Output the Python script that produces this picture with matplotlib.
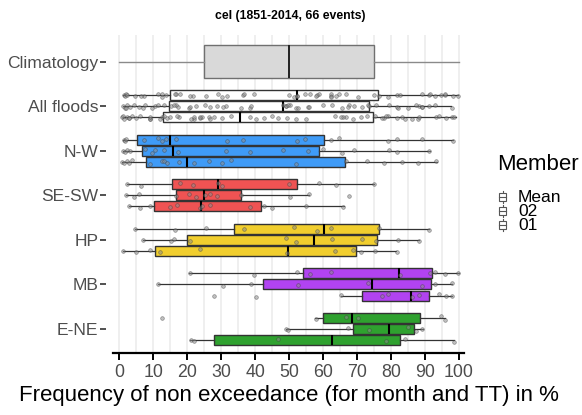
import matplotlib
matplotlib.use("Agg")
import matplotlib.pyplot as plt
from matplotlib.patches import Rectangle
from matplotlib.lines import Line2D

plt.rcParams['font.family'] = ['Liberation Sans', 'DejaVu Sans']

# ---- data -------------------------------------------------------------
categories = ["Climatology", "All floods", "N-W", "SE-SW", "HP", "MB", "E-NE"]
regions = ["N-W", "SE-SW", "HP", "MB", "E-NE"]
members = ["Mean", "02", "01"]

region_colors = {"N-W": "#3F9BF7", "SE-SW": "#EF5353", "HP": "#F1CE2E",
                 "MB": "#B143F1", "E-NE": "#2FA12F"}

# climatology: whisker low, Q1, median, Q3, whisker high
clim_stats = [0.0, 25.0, 50.0, 75.0, 100.0]

# box statistics per member for [All floods, N-W, SE-SW, HP, MB, E-NE]
# each entry: whisker low, Q1, median, Q3, whisker high
stats_mean = [[1.1, 14.8, 52.2, 76.3, 99.8],
              [1.0, 5.1, 15.0, 60.3, 98.3],
              [2.3, 15.4, 29.2, 52.2, 75.0],
              [4.6, 33.7, 60.3, 76.6, 91.3],
              [20.6, 54.1, 82.4, 92.2, 99.9],
              [57.6, 60.0, 68.5, 88.6, 95.8]]
stats_02 = [[1.0, 14.6, 48.2, 73.4, 97.8],
            [1.0, 6.6, 15.7, 58.9, 91.5],
            [2.0, 16.6, 24.8, 35.9, 56.0],
            [6.9, 19.8, 57.3, 75.9, 88.3],
            [11.3, 42.3, 74.3, 91.9, 97.9],
            [49.0, 68.9, 79.3, 86.7, 89.3]]
stats_01 = [[1.0, 13.0, 35.6, 74.8, 99.1],
            [0.8, 8.0, 19.8, 66.4, 93.6],
            [2.8, 10.3, 24.0, 41.6, 66.2],
            [1.0, 10.5, 49.7, 69.8, 81.6],
            [65.2, 71.5, 85.8, 91.1, 98.0],
            [20.9, 28.0, 62.6, 82.8, 98.6]]

# event values (%) per region and member
pts_mean = {
    "N-W": [1.3, 1.7, 2.1, 7.4, 11.4, 12.6, 13.8, 16.6, 31.6, 36.5, 52.4, 54.8,
            62.2, 64.6, 79.1, 81.8, 89.0, 98.3],
    "SE-SW": [2.3, 6.3, 17.8, 21.6, 29.2, 30.2, 49.9, 58.9, 63.9, 75.0],
    "HP": [4.7, 16.3, 25.4, 36.6, 51.3, 58.3, 62.3, 76.4, 91.1],
    "MB": [20.7, 39.8, 52.3, 56.2, 62.4, 82.6, 91.5, 93.1, 95.9, 99.8],
    "E-NE": [12.7, 57.8, 66.8, 70.3, 94.6, 95.9],
}
pts_02 = {
    "N-W": [1.1, 1.8, 2.4, 3.2, 7.6, 9.6, 10.4, 13.2, 17.3, 31.3, 38.5, 48.1,
            55.7, 60.0, 65.7, 69.1, 79.3, 81.8, 91.2],
    "SE-SW": [2.0, 4.4, 5.7, 16.7, 20.5, 22.5, 25.1, 26.8, 28.9, 35.8, 50.3,
              56.0, 67.7],
    "HP": [7.0, 15.1, 16.2, 20.9, 49.0, 52.1, 62.5, 71.5, 75.7, 82.2, 88.3],
    "MB": [11.3, 30.4, 38.9, 52.5, 73.3, 89.0, 92.9, 97.9],
    "E-NE": [49.0, 49.6, 67.3, 73.5, 85.1, 87.4, 89.0],
}
pts_01 = {
    "N-W": [0.8, 1.5, 2.3, 3.0, 3.7, 8.9, 12.5, 13.3, 14.0, 17.6, 21.9, 26.3,
            30.2, 32.8, 52.0, 66.7, 72.8, 77.9, 83.1, 88.0, 93.4],
    "SE-SW": [2.9, 6.0, 8.9, 15.0, 17.0, 23.8, 24.4, 26.8, 38.5, 42.6, 45.1,
              55.1, 66.0],
    "HP": [1.0, 5.0, 8.9, 12.1, 23.9, 49.3, 63.6, 68.7, 71.3, 75.3, 81.7],
    "MB": [27.8, 40.4, 65.4, 77.4, 79.0, 86.2, 88.2, 94.0, 96.1, 98.0],
    "E-NE": [21.2, 21.9, 46.7, 78.6, 84.1, 98.6],
}

xticks = list(range(0, 101, 10))
title = "cel (1851-2014, 66 events)"
xlabel = "Frequency of non exceedance (for month and TT) in %"

# ---- figure -------------------------------------------------------------
W, H = 582, 415
fig = plt.figure(figsize=(W / 100, H / 100), dpi=100)
ax = fig.add_axes([113 / W, 1 - 353 / H, (464 - 113) / W, (353 - 35) / H])

ypos = {c: len(categories) - 1 - i for i, c in enumerate(categories)}
offsets = {"Mean": 0.25, "02": 0.0, "01": -0.25}
jit = [0.0, -0.03, 0.02, -0.015, 0.035, -0.04, 0.01, 0.025, -0.02]


def to_bxp(s):
    return dict(whislo=s[0], q1=s[1], med=s[2], q3=s[3], whishi=s[4], fliers=[])


# climatology box
ax.bxp([to_bxp(clim_stats)], positions=[ypos["Climatology"]], widths=0.75,
       orientation="horizontal", patch_artist=True, showcaps=False,
       showfliers=False, manage_ticks=False,
       boxprops=dict(facecolor="#D9D9D9", edgecolor="#707070", linewidth=1.0),
       whiskerprops=dict(color="#8A8A8A", linewidth=1.0),
       medianprops=dict(color="#222222", linewidth=1.4))

groups = ["All floods"] + regions
member_stats = {"Mean": stats_mean, "02": stats_02, "01": stats_01}
member_pts = {"Mean": pts_mean, "02": pts_02, "01": pts_01}

for m in members:
    for gi, g in enumerate(groups):
        y = ypos[g] + offsets[m]
        face = "white" if g == "All floods" else region_colors[g]
        ax.bxp([to_bxp(member_stats[m][gi])], positions=[y], widths=0.225,
               orientation="horizontal", patch_artist=True, showcaps=False,
               showfliers=False, manage_ticks=False,
               boxprops=dict(facecolor=face, edgecolor="#333333", linewidth=1.0),
               whiskerprops=dict(color="#333333", linewidth=0.9),
               medianprops=dict(color="black", linewidth=1.5))
        if g == "All floods":
            vals = [v for r in regions for v in member_pts[m][r]]
        else:
            vals = member_pts[m][g]
        ys = [y + jit[i % len(jit)] for i in range(len(vals))]
        ax.scatter(vals, ys, s=7, facecolor="#8C8C8C", edgecolor="#3A3A3A",
                   linewidths=0.45, alpha=0.55, zorder=5)

ax.set_xlim(-1.85, 101.5)
ax.set_ylim(-0.54, 6.6)
ax.set_xticks(xticks)
ax.set_xticks([t + 5 for t in xticks[:-1]], minor=True)
ax.grid(True, axis="x", which="both", color="#EBEBEB", linewidth=1.1)
ax.set_axisbelow(True)
ax.set_yticks([ypos[c] for c in categories])
ax.set_yticklabels(categories)

for s in ["top", "right", "left"]:
    ax.spines[s].set_visible(False)
ax.spines["left"].set_position(("outward", 5))
ax.spines["bottom"].set_color("black")
ax.spines["bottom"].set_linewidth(1.6)
ax.tick_params(axis="x", which="major", length=5, width=1.4, color="black",
               labelsize=12.8, labelcolor="#4D4D4D", pad=3)
ax.tick_params(axis="x", which="minor", length=0)
ax.tick_params(axis="y", length=4, width=1.2, color="#333333", labelsize=12.6,
               labelcolor="#4D4D4D", pad=1.5)
ax.set_xlabel(xlabel, fontsize=16, color="black", labelpad=3)
fig.text(290 / W, 1 - 16 / H, title, ha="center", va="center",
         fontsize=8.8, fontweight="bold")

# ---- legend ---------------------------------------------------------------
lax = fig.add_axes([0, 0, 1, 1])
lax.set_xlim(0, W)
lax.set_ylim(H, 0)
lax.axis("off")
lax.text(497, 164, "Member", fontsize=16, va="center", ha="left")
for i, m in enumerate(members):
    cy = 197 + i * 14
    lax.add_line(Line2D([502.5, 502.5], [cy - 6, cy + 6], color="#555555", lw=0.8))
    lax.add_patch(Rectangle((499, cy - 4), 7, 8, facecolor="white",
                            edgecolor="#555555", lw=0.8, zorder=3))
    lax.add_line(Line2D([499, 506], [cy, cy], color="#555555", lw=0.8, zorder=4))
    lax.text(518, cy, m, fontsize=12.5, va="center", ha="left")

fig.savefig("out.png", dpi=100)
